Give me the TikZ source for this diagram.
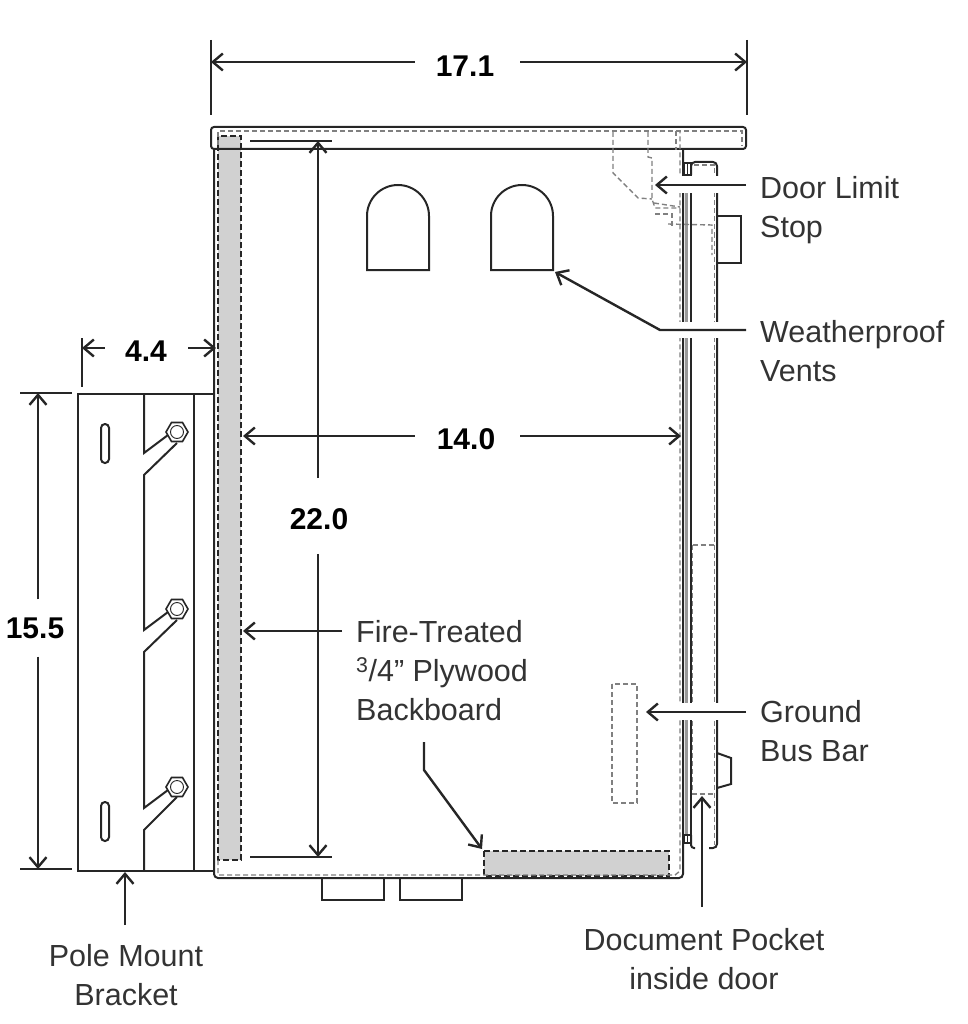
\documentclass[tikz,border=0pt]{standalone}
\usepackage{fontspec}
\setmainfont{Liberation Sans}
\usetikzlibrary{arrows.meta}
\colorlet{inkline}{black!85}
\colorlet{hiddenline}{black!50}
\colorlet{boardfill}{black!18}
\tikzset{
  outline/.style={inkline, line width=2pt},
  hidden/.style={hiddenline, line width=1.4pt, dash pattern=on 5pt off 3pt},
  board/.style={fill=boardfill, draw=inkline, line width=2pt, dash pattern=on 6pt off 3pt},
  pointer/.style={inkline, line width=2.4pt, -{Straight Barb[length=10pt,width=17pt,line width=2.4pt]}},
  plainline/.style={inkline, line width=2.4pt},
  callout/.style={font=\fontsize{30.5}{39}\selectfont, text=black!80, inner sep=0pt, align=left},
  dimtext/.style={font=\fontsize{30}{36}\selectfont\bfseries, text=black, inner sep=0pt}
}
\begin{document}
\begin{tikzpicture}[x=1pt, y=-1pt]
  \useasboundingbox (0,0) rectangle (967,1024);

  % Grey boards
  \draw[board] (218,136) rectangle (241,860);
  \draw[board] (484,851) rectangle (669,876);

  % Cabinet body and top cap
  \draw[outline, rounded corners=4pt] (214,149) -- (214,878) -- (683,878) -- (683,149);
  \draw[outline, rounded corners=3pt] (211,149) -- (211,127) -- (746,127) -- (746,149) -- cycle;

  % Hidden edges of the cabinet
  \draw[hidden] (218,145) -- (218,131) -- (742,131) -- (742,146);
  \draw[hidden] (218,860) -- (218,875) -- (675,875) -- (680,871) -- (680,131);
  \draw[hidden] (676,131) -- (676,150);

  % Door
  \fill[black!40] (685,176) rectangle (687.5,835);
  \draw[outline] (691,175) -- (691,835);
  \draw[outline, rounded corners=4pt] (691,175) -- (691,162) -- (717,162) -- (717,848) -- (709,848);
  \draw[outline, rounded corners=3pt] (691,835) -- (691,848) -- (695,848);
  \draw[hidden] (694,165) -- (714.5,165) -- (714.5,845);
  \draw[outline, line width=1.3pt] (684,163) rectangle (691,175);
  \draw[outline, line width=1.3pt] (687.5,163) -- (687.5,175);
  \draw[outline, line width=1.3pt] (684,835) rectangle (691,843);
  \draw[outline, line width=1.3pt] (687.5,835) -- (687.5,843);

  % Latch and hinge blocks on the door
  \draw[outline] (717,216) -- (741,216) -- (741,263) -- (717,263);
  \draw[outline] (717,753) -- (731,758) -- (731,784) -- (717,788);

  % Door limit stop
  \draw[hidden] (613,132) -- (613,173) -- (638,198) -- (652,199);
  \draw[hidden] (648,132) -- (648,157) -- (652,158) -- (652,199) -- (655,208) -- (680,208);
  \draw[hidden] (654,203) -- (680,207);
  \draw[hidden] (655,214) -- (672,214) -- (672,226);
  \draw[hidden] (668,224) -- (712,225) -- (712,255);

  % Pocket and bus bar
  \draw[hidden] (692.5,545) -- (714,545);
  \draw[hidden] (692.5,545) -- (692.5,794) -- (714,794);
  \draw[hidden] (612,684) rectangle (637,803);

  % Vents
  \foreach \x in {367,491} {
    \draw[outline] (\x,270) -- (\x,216) arc[start angle=180, end angle=0, radius=31pt] -- ++(0,54) -- cycle;
  }

  % Conduit stubs
  \draw[outline] (322,878) rectangle (384,900);
  \draw[outline] (400,878) rectangle (462,900);

  % Bracket
  \draw[outline] (214,394) -- (78,394) -- (78,871) -- (214,871);
  \draw[outline] (194,394) -- (194,871);
  \draw[outline] (144,394) -- (144,453) -- (168,435);
  \draw[outline] (177,443) -- (144,475) -- (144,630) -- (168,612);
  \draw[outline] (177,620) -- (144,652) -- (144,808) -- (168,790);
  \draw[outline] (177,797) -- (144,830) -- (144,871);
  \foreach \y in {432,609,787} {
    \draw[outline, fill=white, line width=1.6pt] (188,\y) -- ++(-5.5,-9.5) -- ++(-11,0) -- ++(-5.5,9.5) -- ++(5.5,9.5) -- ++(11,0) -- cycle;
    \draw[outline, line width=0.9pt] (177,\y) circle (6.5pt);
  }
  \foreach \y in {424,802} {
    \draw[outline, rounded corners=3.9pt] (101,\y) rectangle (109,\y+39);
  }

  % Dimension end marks
  \draw[plainline] (211,40) -- (211,115);
  \draw[plainline] (747,40) -- (747,115);
  \draw[plainline] (82,338) -- (82,387);
  \draw[plainline] (20,393) -- (72,393);
  \draw[plainline] (20,869) -- (72,869);
  \draw[plainline] (250,141) -- (332,141);
  \draw[plainline] (250,857) -- (332,857);

  % Dimension labels
  \node[dimtext] (widthlabel) at (465,66) {17.1};
  \node[dimtext] (bracketlabel) at (146,351) {4.4};
  \node[dimtext] (bracketheight) at (35,628) {15.5};
  \node[dimtext] (heightlabel) at (319,519) {22.0};
  \node[dimtext] (innerlabel) at (466,439) {14.0};

  % Ends of the dimension arrows
  \coordinate (widthleft) at (211,62);
  \coordinate (widthright) at (747,62);
  \coordinate (bracketleft) at (82,348);
  \coordinate (bracketright) at (216,348);
  \coordinate (heighttop) at (38,393);
  \coordinate (heightbottom) at (38,869);
  \coordinate (innertop) at (318,141);
  \coordinate (innerbottom) at (318,857);
  \coordinate (innerleft) at (243,436);
  \coordinate (innerright) at (681,436);

  % Dimension arrows
  \draw[pointer] (widthlabel.west |- widthleft) ++(-21,0) -- (widthleft);
  \draw[pointer] (widthlabel.east |- widthright) ++(26,0) -- (widthright);
  \draw[pointer] (bracketlabel.west |- bracketleft) ++(-20,0) -- (bracketleft);
  \draw[pointer] (bracketlabel.east |- bracketright) ++(21,0) -- (bracketright);
  \draw[pointer] (heighttop |- bracketheight.north) ++(0,-18) -- (heighttop);
  \draw[pointer] (heightbottom |- bracketheight.south) ++(0,18) -- (heightbottom);
  \draw[pointer] (innertop |- heightlabel.north) ++(0,-30) -- (innertop);
  \draw[pointer] (innerbottom |- heightlabel.south) ++(0,24) -- (innerbottom);
  \draw[pointer] (innerlabel.west |- innerleft) ++(-22,0) -- (innerleft);
  \draw[pointer] (innerlabel.east |- innerright) ++(25,0) -- (innerright);

  % Callout labels
  \node[callout, anchor=west] (stoplabel) at (760,210) {Door Limit\\Stop};
  \node[callout, anchor=west] (ventlabel) at (760,351) {Weatherproof\\Vents};
  \node[callout, anchor=west] (boardlabel) at (356,671) {Fire-Treated\\\textsuperscript{3}/4” Plywood\\Backboard};
  \node[callout, anchor=west] (buslabel) at (760,731) {Ground\\Bus Bar};
  \node[callout, align=center] (pocketlabel) at (704,959) {Document Pocket\\inside door};
  \node[callout, align=center] (bracketname) at (126,975) {Pole Mount\\Bracket};

  % Free ends of the callout arrows
  \coordinate (stopstart) at (746,185);
  \coordinate (stoptip) at (655,185);
  \coordinate (ventstart) at (746,330);
  \coordinate (ventbend) at (660,330);
  \coordinate (venttip) at (555,272);
  \coordinate (boardstart) at (342,631);
  \coordinate (boardtip) at (243,631);
  \coordinate (backstart) at (424,742);
  \coordinate (backbend) at (424,770);
  \coordinate (backtip) at (482,849);
  \coordinate (busstart) at (746,712);
  \coordinate (bustip) at (646,712);
  \coordinate (pocketstart) at (702,907);
  \coordinate (pockettip) at (702,796);
  \coordinate (bracketstart) at (125,925);
  \coordinate (brackettip) at (125,872);

  % Callout arrows, with a white gap where they cross the door
  \fill[white] (678,176) rectangle (722,193);
  \fill[white] (678,703) rectangle (722,720);
  \fill[white] (678,322) rectangle (722,338);
  \draw[pointer] (stopstart) -- (stoptip);
  \draw[pointer] (ventstart) -- (ventbend) -- (venttip);
  \draw[pointer] (boardstart) -- (boardtip);
  \draw[pointer] (backstart) -- (backbend) -- (backtip);
  \draw[pointer] (busstart) -- (bustip);
  \draw[pointer] (pocketstart) -- (pockettip);
  \draw[pointer] (bracketstart) -- (brackettip);
\end{tikzpicture}
\end{document}
